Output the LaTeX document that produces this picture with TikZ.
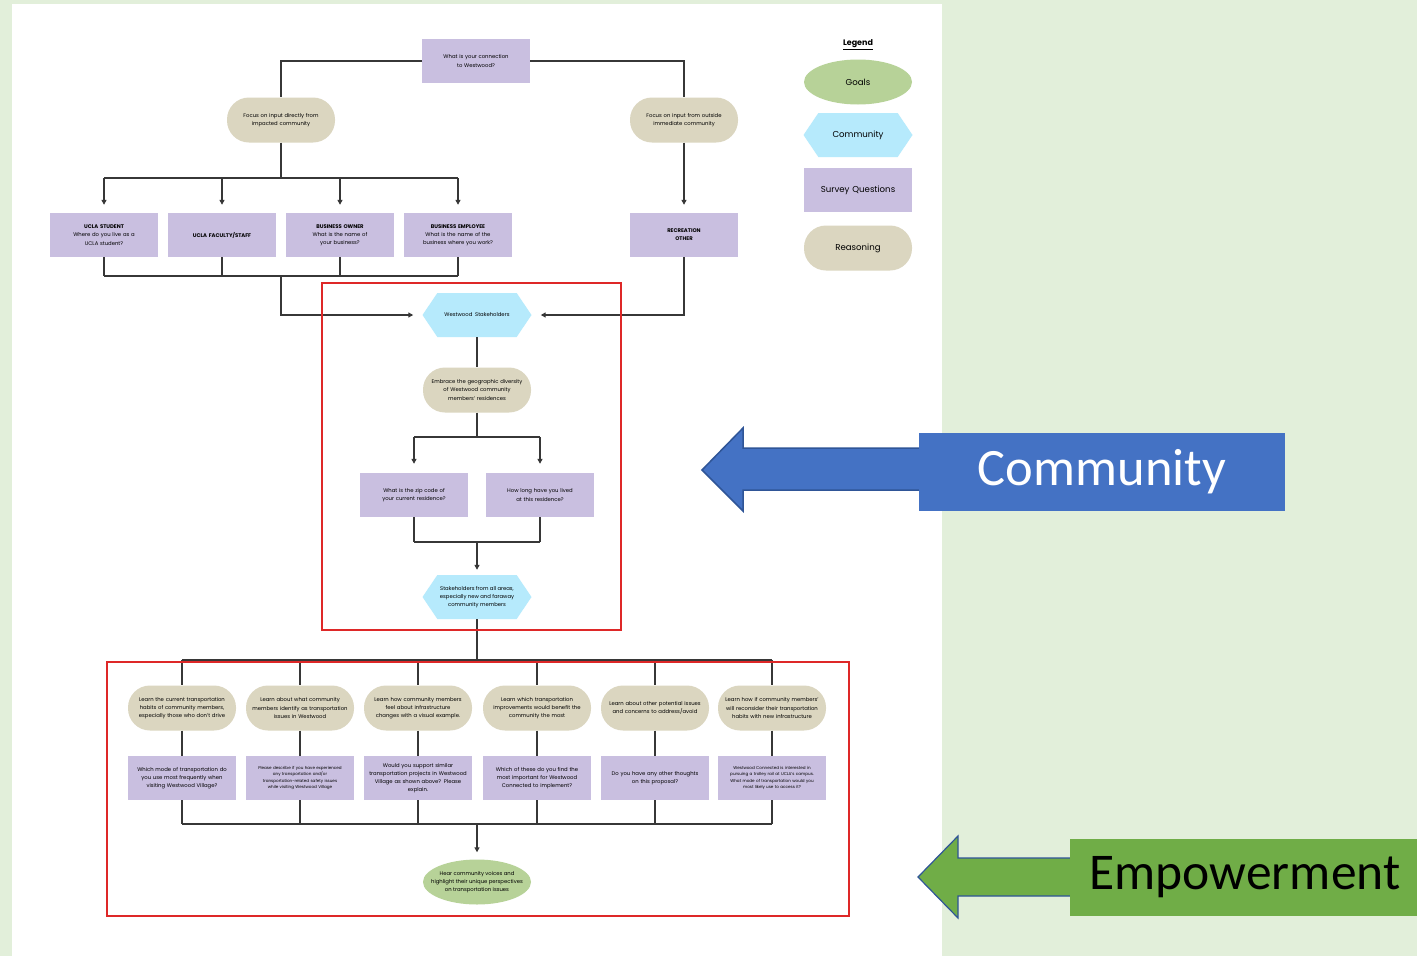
\documentclass[tikz,border=0pt]{standalone}
\usepackage{fontspec}
\setmainfont{Poppins}
\newfontfamily\calib{Carlito}
\usetikzlibrary{shapes.geometric,shapes.symbols,arrows.meta}

\definecolor{questc}{RGB}{201,191,224}
\definecolor{reasonc}{RGB}{219,214,192}
\definecolor{commc}{RGB}{182,234,252}
\definecolor{goalc}{RGB}{183,210,152}
\definecolor{bggreen}{RGB}{226,239,218}
\definecolor{linec}{RGB}{55,55,55}
\definecolor{frame}{RGB}{222,40,40}
\definecolor{blueb}{RGB}{68,114,196}
\definecolor{greenb}{RGB}{112,173,71}
\definecolor{edgeb}{RGB}{47,85,151}

\newcommand{\tinyf}{\fontsize{5.3}{8.2}\selectfont}
\newcommand{\microf}{\fontsize{4.1}{6.6}\selectfont}
\newcommand{\legf}{\fontsize{8.6}{10}\selectfont}

\tikzset{
  quest/.style={rectangle, fill=questc, minimum width=108pt, minimum height=44pt,
    inner sep=1pt, text width=106pt, align=center, font=\tinyf},
  reason/.style={rectangle, rounded corners=22pt, fill=reasonc, minimum width=108pt,
    minimum height=45pt, inner sep=1pt, text width=106pt, align=center, font=\tinyf},
  comm/.style={signal, signal to=east and west, signal pointer angle=112, fill=commc,
    minimum width=109pt, minimum height=44pt, inner xsep=0pt, align=center, font=\tinyf},
  goal/.style={ellipse, fill=goalc, minimum width=108pt, minimum height=45pt,
    inner xsep=-8pt, inner ysep=-3pt, align=center, font=\tinyf},
  conn/.style={draw=linec, line width=1.3pt},
  arr/.style={conn, -{Triangle[width=5pt,length=5pt]}},
}

\begin{document}
\begin{tikzpicture}[x=1pt,y=-1pt]
				% page and paper
				\fill[bggreen] (0,0) rectangle (1417,956);
				\fill[white] (12,4) rectangle (942,956);
				\useasboundingbox (0,0) rectangle (1417,956);

				% first question and the two directions
				\node[quest] (conn) at (476,61) {What is your connection\\to Westwood?};
				\node[reason] (inside) at (281,120) {Focus on input directly from\\impacted community};
				\node[reason] (outside) at (684,120) {Focus on input from outside\\immediate community};

				\node[quest] (stud) at (104,235) {\textbf{UCLA STUDENT}\\Where do you live as a\\UCLA student?};
				\node[quest] (fac) at (222,235) {\textbf{UCLA FACULTY/STAFF}};
				\node[quest] (own) at (340,235) {\textbf{BUSINESS OWNER}\\What is the name of\\your business?};
				\node[quest] (emp) at (458,235) {\textbf{BUSINESS EMPLOYEE}\\What is the name of the\\business where you work?};
				\node[quest] (rec) at (684,235) {\textbf{RECREATION}\\\textbf{OTHER}};

				\coordinate (lsplit) at (281,178);
				\coordinate (ljoin) at (281,276);

				\draw[conn] (conn.west) -| (inside.north);
				\draw[conn] (conn.east) -| (outside.north);
				\draw[conn] (inside.south) -- (lsplit);
				\draw[conn] (stud |- lsplit) -- (emp |- lsplit);
				\foreach \n in {stud,fac,own,emp}
					\draw[arr, shorten >=8pt] (\n |- lsplit) -- (\n.north);
				\draw[arr, shorten >=8pt] (outside.south) -- (rec.north);
				\foreach \n in {stud,fac,own,emp}
					\draw[conn] (\n.south) -- (\n |- ljoin);
				\draw[conn] (stud |- ljoin) -- (emp |- ljoin);

				% community block
				\node[comm] (stake) at (477,315) {Westwood\ \ Stakeholders};
				\draw[arr, shorten >=9pt] (ljoin) |- (stake.west);
				\draw[arr, shorten >=9pt] (rec.south) |- (stake.east);

				\node[reason] (embrace) at (477,390) {Embrace the geographic diversity\\of Westwood community\\members' residences};
				\node[quest] (zip) at (414,495) {What is the zip code of\\your current residence?};
				\node[quest] (long) at (540,495) {How long have you lived\\at this residence?};
				\node[comm] (areas) at (477,597) {Stakeholders from all areas,\\especially new and faraway\\community members};

				\coordinate (dsplit) at (477,437);
				\coordinate (djoin) at (477,542);
				\draw[conn] (stake.south) -- (embrace.north);
				\draw[conn] (embrace.south) -- (dsplit);
				\draw[conn] (zip |- dsplit) -- (long |- dsplit);
				\foreach \n in {zip,long}
					\draw[arr, shorten >=9pt] (\n |- dsplit) -- (\n.north);
				\foreach \n in {zip,long}
					\draw[conn] (\n.south) -- (\n |- djoin);
				\draw[conn] (zip |- djoin) -- (long |- djoin);
				\draw[arr, shorten >=5pt] (djoin) -- (areas.north);

				% empowerment block
				\node[reason] (g1) at (182,708) {Learn the current transportation\\habits of community members,\\especially those who don't drive};
				\node[reason] (g2) at (300,708) {Learn about what community\\members identify as transportation\\issues in Westwood};
				\node[reason] (g3) at (418,708) {Learn how community members\\feel about infrastructure\\changes with a visual example.};
				\node[reason] (g4) at (537,708) {Learn which transportation\\improvements would benefit the\\community the most};
				\node[reason] (g5) at (655,708) {Learn about other potential issues\\and concerns to address/avoid};
				\node[reason] (g6) at (772,708) {Learn how if community members'\\will reconsider their transportation\\habits with new infrastructure};

				\node[quest] (q1) at (182,778) {Which mode of transportation do\\you use most frequently when\\visiting Westwood Village?};
				\node[quest, font=\microf] (q2) at (300,778) {Please describe if you have experienced\\any transportation and/or\\transportation-related safety issues\\while visiting Westwood Village};
				\node[quest] (q3) at (418,778) {Would you support similar\\transportation projects in Westwood\\Village as shown above? Please\\explain.};
				\node[quest] (q4) at (537,778) {Which of these do you find the\\most important for Westwood\\Connected to implement?};
				\node[quest] (q5) at (655,778) {Do you have any other thoughts\\on this proposal?};
				\node[quest, font=\microf] (q6) at (772,778) {Westwood Connected is interested in\\pursuing a trolley rail at UCLA's campus.\\What mode of transportation would you\\most likely use to access it?};

				\node[goal] (hear) at (477,882) {Hear community voices and\\highlight their unique perspectives\\on transportation issues};

				\coordinate (bsplit) at (477,660);
				\coordinate (bjoin) at (477,824);
				\draw[conn] (areas.south) -- (bsplit);
				\draw[conn] (g1 |- bsplit) -- (g6 |- bsplit);
				\foreach \i in {1,...,6} {
					\draw[conn] (g\i |- bsplit) -- (g\i.north);
					\draw[conn] (g\i.south) -- (q\i.north);
					\draw[conn] (q\i.south) -- (q\i |- bjoin);
				}
				\draw[conn] (q1 |- bjoin) -- (q6 |- bjoin);
				\draw[arr, shorten >=7pt] (bjoin) -- (hear.north);

				% red frames
				\draw[frame, line width=1.6pt] (322,283) rectangle (621,630);
				\draw[frame, line width=1.6pt] (107,662) rectangle (849,916);

				% legend
				\node[font=\fontsize{8}{9}\selectfont\bfseries] (leg) at (858,45) {\underline{Legend}};
				\node[goal, font=\legf] (lgoal) at (858,82) {Goals};
				\node[comm, font=\legf] (lcomm) at (858,135) {Community};
				\node[quest, font=\legf] (lquest) at (858,190) {Survey Questions};
				\node[reason, font=\legf] (lreason) at (858,248) {Reasoning};

				% side call-outs
				\filldraw[fill=blueb, draw=edgeb, line width=1.5pt]
					(702,470) -- (743,428) -- (743,448) -- (922,448) -- (922,490) -- (743,490) -- (743,511) -- cycle;
				\node[fill=blueb, minimum width=366pt, minimum height=78pt, inner sep=0pt,
					font=\calib\fontsize{52.5}{60}\selectfont, text=white] (commbox) at (1102,472) {Community};
				\filldraw[fill=greenb, draw=edgeb, line width=1.2pt]
					(918,877) -- (958,836) -- (958,858) -- (1072,858) -- (1072,896) -- (958,896) -- (958,918) -- cycle;
				\node[fill=greenb, minimum width=350pt, minimum height=77pt, inner sep=0pt,
					font=\calib\fontsize{51.5}{60}\selectfont, text=black] (empbox) at (1245,877.5) {Empowerment};
			\end{tikzpicture}
\end{document}
